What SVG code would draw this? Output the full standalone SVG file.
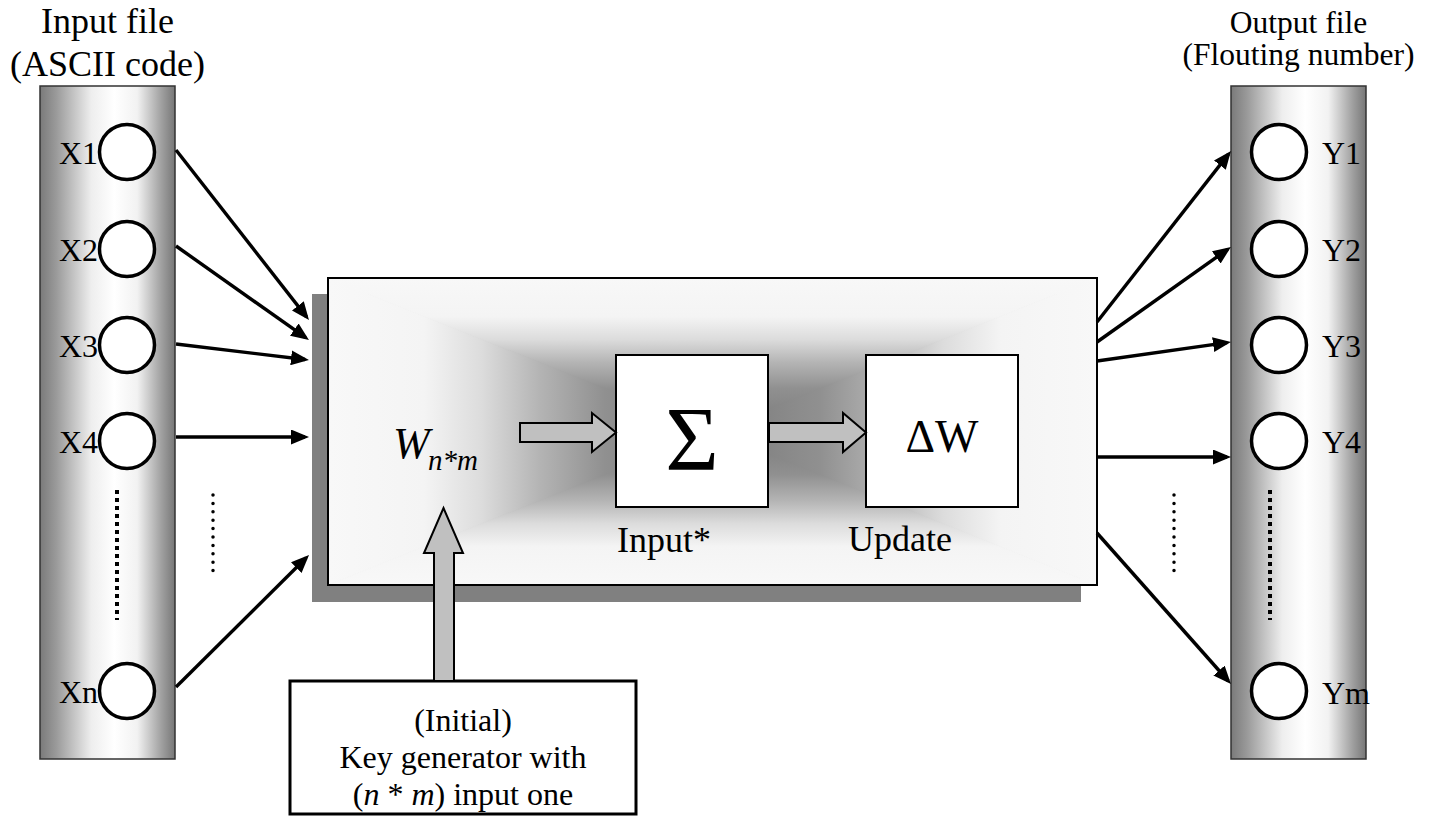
<svg xmlns="http://www.w3.org/2000/svg" width="1435" height="819" viewBox="0 0 1435 819">
  <defs>
    <!-- cylinder-like shading of the input / output columns -->
    <linearGradient id="column" x1="0" y1="0" x2="1" y2="0">
      <stop offset="0" stop-color="#7a7a7a"/>
      <stop offset="0.12" stop-color="#9a9a9a"/>
      <stop offset="0.38" stop-color="#eeeeee"/>
      <stop offset="0.55" stop-color="#ffffff"/>
      <stop offset="0.72" stop-color="#f2f2f2"/>
      <stop offset="0.9" stop-color="#a0a0a0"/>
      <stop offset="1" stop-color="#777777"/>
    </linearGradient>
    <!-- rectangular "from centre" shading of the main block, one ramp per side -->
    <linearGradient id="shadeTop" gradientUnits="userSpaceOnUse" x1="712.5" y1="278" x2="712.5" y2="431.5">
      <stop offset="0" stop-color="#f8f8f8"/>
      <stop offset="0.25" stop-color="#f4f4f4"/>
      <stop offset="0.4" stop-color="#dcdcdc"/>
      <stop offset="0.55" stop-color="#b4b4b4"/>
      <stop offset="0.72" stop-color="#909090"/>
      <stop offset="1" stop-color="#7a7a7a"/>
    </linearGradient>
    <linearGradient id="shadeBottom" gradientUnits="userSpaceOnUse" x1="712.5" y1="585" x2="712.5" y2="431.5">
      <stop offset="0" stop-color="#f8f8f8"/>
      <stop offset="0.25" stop-color="#f4f4f4"/>
      <stop offset="0.4" stop-color="#dcdcdc"/>
      <stop offset="0.55" stop-color="#b4b4b4"/>
      <stop offset="0.72" stop-color="#909090"/>
      <stop offset="1" stop-color="#7a7a7a"/>
    </linearGradient>
    <linearGradient id="shadeLeft" gradientUnits="userSpaceOnUse" x1="328" y1="431.5" x2="712.5" y2="431.5">
      <stop offset="0" stop-color="#f8f8f8"/>
      <stop offset="0.25" stop-color="#f4f4f4"/>
      <stop offset="0.4" stop-color="#dcdcdc"/>
      <stop offset="0.55" stop-color="#b4b4b4"/>
      <stop offset="0.72" stop-color="#909090"/>
      <stop offset="1" stop-color="#7a7a7a"/>
    </linearGradient>
    <linearGradient id="shadeRight" gradientUnits="userSpaceOnUse" x1="1097" y1="431.5" x2="712.5" y2="431.5">
      <stop offset="0" stop-color="#f8f8f8"/>
      <stop offset="0.25" stop-color="#f4f4f4"/>
      <stop offset="0.4" stop-color="#dcdcdc"/>
      <stop offset="0.55" stop-color="#b4b4b4"/>
      <stop offset="0.72" stop-color="#909090"/>
      <stop offset="1" stop-color="#7a7a7a"/>
    </linearGradient>
    <marker id="head" markerUnits="userSpaceOnUse" markerWidth="18" markerHeight="15" viewBox="0 0 18 15" refX="14" refY="7.5" orient="auto">
      <path d="M0,0 L18,7.5 L0,15 z" fill="#000"/>
    </marker>
  </defs>
  <style>
    text { font-family: "Liberation Serif", "Times New Roman", serif; fill: #000; }
    .col { fill: url(#column); stroke: #333; stroke-width: 1.5; }
    .unit circle { fill: #fff; stroke: #000; stroke-width: 3.5; }
    .unit text { font-size: 32px; }
    .title { font-size: 36px; text-anchor: middle; }
    .title-sm { font-size: 31.5px; text-anchor: middle; }
    .wire { stroke: #000; stroke-width: 3.4; fill: none; marker-end: url(#head); }
    .colDots { stroke: #000; stroke-width: 4; stroke-dasharray: 4 4; fill: none; }
    .gapDots { stroke: #000; stroke-width: 3.5; stroke-linecap: round; stroke-dasharray: 0 8.4; fill: none; }
    .block { fill: #c0c0c0; stroke: #000; stroke-width: 2; }
    .sq { fill: #fff; stroke: #000; stroke-width: 2; }
    .key { font-size: 32px; text-anchor: middle; }
  </style>

  <!-- input column -->
  <g id="input-file">
    <text class="title" x="107.5" y="33">Input file</text>
    <text class="title" x="107.5" y="76">(ASCII code)</text>
    <rect class="col" x="40" y="86" width="135" height="673"/>
    <line class="colDots" x1="117" y1="490" x2="117" y2="620"/>
  </g>
  <g id="x1" class="unit"><text x="59" y="164">X1</text><circle cx="127" cy="152" r="27.5"/></g>
  <g id="x2" class="unit"><text x="59" y="261">X2</text><circle cx="127" cy="249" r="27.5"/></g>
  <g id="x3" class="unit"><text x="59" y="357">X3</text><circle cx="127" cy="345" r="27.5"/></g>
  <g id="x4" class="unit"><text x="59" y="453">X4</text><circle cx="127" cy="441" r="27.5"/></g>
  <g id="xn" class="unit"><text x="59" y="703">Xn</text><circle cx="127" cy="691" r="27.5"/></g>

  <!-- output column -->
  <g id="output-file">
    <text class="title-sm" x="1298.5" y="33">Output file</text>
    <text class="title-sm" x="1298.5" y="65">(Flouting number)</text>
    <rect class="col" x="1231" y="86" width="135" height="673"/>
    <line class="colDots" x1="1270" y1="490" x2="1270" y2="620"/>
  </g>
  <g id="y1" class="unit"><circle cx="1279" cy="152" r="27.5"/><text x="1322" y="164">Y1</text></g>
  <g id="y2" class="unit"><circle cx="1279" cy="249" r="27.5"/><text x="1322" y="261">Y2</text></g>
  <g id="y3" class="unit"><circle cx="1279" cy="345" r="27.5"/><text x="1322" y="357">Y3</text></g>
  <g id="y4" class="unit"><circle cx="1279" cy="441" r="27.5"/><text x="1322" y="453">Y4</text></g>
  <g id="ym" class="unit"><circle cx="1279" cy="691" r="27.5"/><text x="1322" y="704">Ym</text></g>

  <!-- weight matrix block -->
  <g id="weights">
    <rect x="312" y="294" width="769" height="308" fill="#808080"/>
    <polygon points="328,278 1097,278 712.5,431.5" fill="url(#shadeTop)" stroke="url(#shadeTop)" stroke-width="1"/>
    <polygon points="328,585 1097,585 712.5,431.5" fill="url(#shadeBottom)" stroke="url(#shadeBottom)" stroke-width="1"/>
    <polygon points="328,278 328,585 712.5,431.5" fill="url(#shadeLeft)" stroke="url(#shadeLeft)" stroke-width="1"/>
    <polygon points="1097,278 1097,585 712.5,431.5" fill="url(#shadeRight)" stroke="url(#shadeRight)" stroke-width="1"/>
    <rect x="328" y="278" width="769" height="307" fill="none" stroke="#000" stroke-width="2"/>
    <text x="393" y="458" font-size="44" font-style="italic">W</text>
    <text x="428" y="470" font-size="29" font-style="italic">n*m</text>
  </g>

  <g id="sum">
    <rect class="sq" x="616" y="355" width="152" height="152"/>
    <text x="692" y="470" font-size="92" text-anchor="middle">Σ</text>
    <text x="617" y="552" font-size="36">Input*</text>
  </g>

  <g id="update">
    <rect class="sq" x="866" y="355" width="152" height="152"/>
    <text x="942" y="452" font-size="46" text-anchor="middle">ΔW</text>
    <text x="848" y="551" font-size="36">Update</text>
  </g>

  <g id="key-generator">
    <rect x="290" y="681" width="346" height="133" fill="#fff" stroke="#000" stroke-width="3"/>
    <text class="key" x="463" y="731">(Initial)</text>
    <text class="key" x="463" y="768">Key generator with</text>
    <text class="key" x="463" y="805">(<tspan font-style="italic">n</tspan> * <tspan font-style="italic">m</tspan>) input one</text>
  </g>

  <!-- connectors -->
  <g id="connectors">
    <line class="wire" x1="176" y1="150" x2="306.5" y2="316.9"/>
    <line class="wire" x1="176" y1="246" x2="305.7" y2="337.7"/>
    <line class="wire" x1="176" y1="344" x2="305" y2="359.5"/>
    <line class="wire" x1="176" y1="437" x2="305" y2="437"/>
    <line class="wire" x1="176" y1="687" x2="306.2" y2="557.8"/>

    <line class="wire" x1="1097" y1="322" x2="1228.5" y2="154.1"/>
    <line class="wire" x1="1097" y1="342" x2="1227.7" y2="249.3"/>
    <line class="wire" x1="1097" y1="361" x2="1227" y2="342.6"/>
    <line class="wire" x1="1097" y1="457" x2="1227" y2="457"/>
    <line class="wire" x1="1097" y1="533" x2="1228.3" y2="681"/>

    <line class="gapDots" x1="213" y1="495" x2="213" y2="571"/>
    <line class="gapDots" x1="1174" y1="495" x2="1174" y2="571"/>

    <polygon class="block" points="520,423 592,423 592,413 616,432.5 592,452 592,442 520,442"/>
    <polygon class="block" points="769,423 843,423 843,413 866,432.5 843,452 843,442 769,442"/>
    <polygon class="block" points="443.5,508 463,553 454,553 454,681 434,681 434,553 424,553"/>
  </g>
</svg>
